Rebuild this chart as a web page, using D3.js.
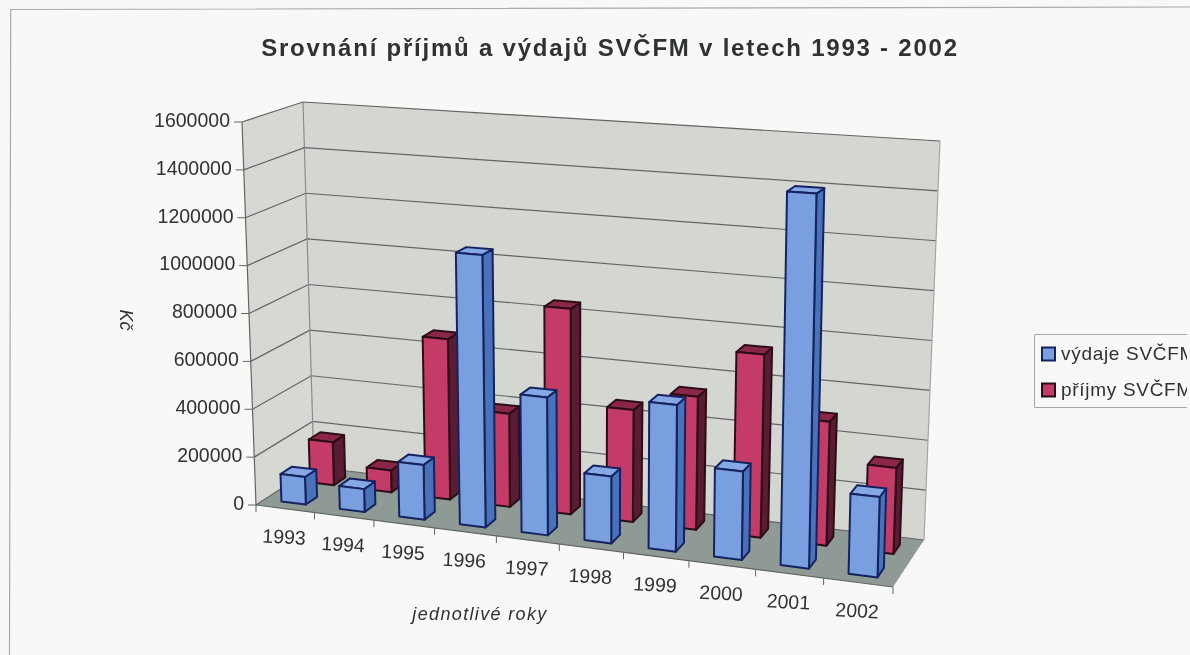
<!DOCTYPE html>
<meta charset="utf-8">
<head>
<script src="https://d3js.org/d3.v7.min.js"></script>
<style>
  body { margin: 0; background: #f8f9f6; }
  text { font-family: "Liberation Sans", Arial, sans-serif; fill: #2f3030; }
</style>
</head>
<body>
<svg id="chart" width="1190" height="655"></svg>
<script>

// values
const years = ["1993","1994","1995","1996","1997","1998","1999","2000","2001","2002"];
const seriesNames = ["výdaje SVČFM","příjmy SVČFM"];
const vydaje = [115000,95000,225000,1110000,557000,268000,582000,348000,1460000,310000];
const prijmy = [184000,93000,675000,389000,850000,459000,540000,737000,495000,340000];
const valueTicks = [0,200000,400000,600000,800000,1000000,1200000,1400000,1600000];

const title = "Srovnání příjmů a výdajů SVČFM v letech 1993 - 2002";
const xTitle = "jednotlivé roky";
const yTitle = "Kč";

const palette = {
  blue: {front:"#7a9fe0", side:"#4a72ba", top:"#86a8e6", line:"#13245e"},
  red:  {front:"#c43a68", side:"#5a1a30", top:"#8a2746", line:"#2b0e18"}
};

// corners of the 3d box on the page: [front/back][left/right][bottom/top]
const box = {
  flb:[256,505], flt:[242,122], frb:[893,587], frt:[904,168],
  blb:[314,467], blt:[303,102], brb:[924,540], brt:[940,141]
};

const svg = d3.select("#chart");

// scales go to 0..1 inside the box
const xBand = d3.scaleBand().domain(years).range([0,1]).paddingInner(0.58).paddingOuter(0.29);
const xStep = d3.scaleBand().domain(years).range([0,1]);
const yVal = d3.scaleLinear().domain([0,1600000]).range([0,1]);
const zBand = d3.scaleBand().domain(seriesNames).range([0,1]).paddingInner(0.6).paddingOuter(0.3);

// the bars get wider to the right, perspective
function warp(u) { return u/(1.1-0.1*u); }

function mix(a,b,t) { return [a[0]+(b[0]-a[0])*t, a[1]+(b[1]-a[1])*t]; }

function project(u,v,w) {
  var uu = warp(u);
  var fb = mix(box.flb,box.frb,uu), ft = mix(box.flt,box.frt,uu),
      bb = mix(box.blb,box.brb,uu), bt = mix(box.blt,box.brt,uu);
  return mix(mix(fb,ft,v), mix(bb,bt,v), w);
}

const lineGen = d3.line().curve(d3.curveLinearClosed);
const pathOpen = d3.line();

var root = svg.append("g").attr("filter","url(#scan)");
svg.append("defs").append("filter").attr("id","scan")
  .attr("x",0).attr("y",0).attr("width","100%").attr("height","100%")
  .attr("filterUnits","userSpaceOnUse")
  .append("feGaussianBlur").attr("stdDeviation",0.6);

// outer frame of the chart, the scan is a bit crooked
root.append("path")
  .attr("d","M9.5,655 L10.7,9.5 L1190,7")
  .attr("fill","none").attr("stroke","#a8aaa8").attr("stroke-width",1.2);

// walls
var walls = root.append("g");
walls.append("path")
  .attr("d", lineGen([project(0,0,0),project(0,1,0),project(0,1,1),project(0,0,1)]))
  .attr("fill","#d6d8d4");
walls.append("path")
  .attr("d", lineGen([project(0,0,1),project(0,1,1),project(1,1,1),project(1,0,1)]))
  .attr("fill","#d4d6d2");
walls.append("path")
  .attr("d", lineGen([project(0,0,0),project(0,0,1),project(1,0,1),project(1,0,0)]))
  .attr("fill","#8f9a95");

// gridlines
var grid = root.append("g").attr("fill","none").attr("stroke","#636564").attr("stroke-width",1.2);
valueTicks.forEach(function(t) {
  var v = yVal(t);
  grid.append("path").attr("d", pathOpen([project(0,v,0),project(0,v,1),project(1,v,1)]));
});
grid.append("path").attr("d", pathOpen([project(0,0,0),project(0,1,0)]));
grid.append("path").attr("d", pathOpen([project(0,0,1),project(0,1,1)])).attr("stroke","#8a8c8b");
grid.append("path").attr("d", pathOpen([project(1,0,1),project(1,1,1)])).attr("stroke","#a5a7a5");
grid.append("path").attr("d", pathOpen([project(0,0,0),project(1,0,0)]));

// y axis ticks and labels
var yAxis = root.append("g");
valueTicks.forEach(function(t) {
  var p = project(0,yVal(t),0);
  yAxis.append("line").attr("x1",p[0]-8).attr("x2",p[0]).attr("y1",p[1]).attr("y2",p[1])
    .attr("stroke","#636564");
  yAxis.append("text").attr("x",p[0]-12).attr("y",p[1]-2).attr("dy","0.35em")
    .attr("text-anchor","end").attr("font-size",19.5).text(t);
});

// x axis ticks and labels
var xAxis = root.append("g");
years.forEach(function(y,i) {
  var p = project(xStep(y),0,0);
  xAxis.append("line").attr("x1",p[0]).attr("y1",p[1]).attr("x2",p[0]).attr("y2",p[1]+7)
    .attr("stroke","#636564");
  var m = project(xStep(y)+xStep.bandwidth()/2,0,0);
  xAxis.append("text")
    .attr("transform","translate("+(m[0]-1)+","+(m[1]+28)+") rotate(3)")
    .attr("dy","0.35em").attr("text-anchor","middle").attr("font-size",19.5).text(y);
});
var pEnd = project(1,0,0);
xAxis.append("line").attr("x1",pEnd[0]).attr("y1",pEnd[1]).attr("x2",pEnd[0]).attr("y2",pEnd[1]+7)
  .attr("stroke","#636564");

// one bar = front, side and top
function drawBar(g, year, value, name, c) {
  var u0 = xBand(year), u1 = u0+xBand.bandwidth(),
      w0 = zBand(name), w1 = w0+zBand.bandwidth(),
      v = yVal(value);
  var bar = g.append("g").attr("stroke",c.line).attr("stroke-width",2).attr("stroke-linejoin","round");
  bar.append("path").attr("fill",c.side)
    .attr("d", lineGen([project(u1,0,w0),project(u1,v,w0),project(u1,v,w1),project(u1,0,w1)]));
  bar.append("path").attr("fill",c.top)
    .attr("d", lineGen([project(u0,v,w0),project(u0,v,w1),project(u1,v,w1),project(u1,v,w0)]));
  bar.append("path").attr("fill",c.front)
    .attr("d", lineGen([project(u0,0,w0),project(u0,v,w0),project(u1,v,w0),project(u1,0,w0)]));
}

var bars = root.append("g");
// back series first
years.forEach(function(y,i) { drawBar(bars, y, prijmy[i], seriesNames[1], palette.red); });
years.forEach(function(y,i) { drawBar(bars, y, vydaje[i], seriesNames[0], palette.blue); });

// titles
root.append("text").attr("x",610).attr("y",56).attr("text-anchor","middle")
  .attr("font-size",24).attr("font-weight","bold").attr("letter-spacing",1.78).text(title);
root.append("text").attr("x",480).attr("y",620).attr("text-anchor","middle")
  .attr("font-size",18).attr("font-style","italic").attr("letter-spacing",1.35).text(xTitle);
root.append("text").attr("transform","translate(120,320) rotate(90)").attr("text-anchor","middle")
  .attr("font-size",18).attr("font-style","italic").text(yTitle);

// legend, cut by the right edge of the scan
root.append("path").attr("d","M1187,334.5 L1034.5,334.5 L1034.5,407.5 L1187,407.5")
  .attr("fill","none").attr("stroke","#a5a7a5");
var clip = svg.select("defs").append("clipPath").attr("id","legendClip");
clip.append("rect").attr("x",1030).attr("y",330).attr("width",157).attr("height",82);
var legend = root.append("g").attr("clip-path","url(#legendClip)");
[palette.blue, palette.red].forEach(function(c,i) {
  var y = 347.5+i*36;
  legend.append("rect").attr("x",1042).attr("y",y).attr("width",13).attr("height",13)
    .attr("fill",c.front).attr("stroke",c.line).attr("stroke-width",2);
  legend.append("text").attr("x",1061).attr("y",y+6).attr("dy","0.35em")
    .attr("font-size",19).attr("letter-spacing",0.7).text(seriesNames[i]);
});

</script>
</body>
</html>
